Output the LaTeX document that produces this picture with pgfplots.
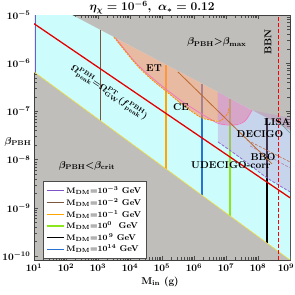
\documentclass[border=0pt]{standalone}
\usepackage{pgfplots}
\pgfplotsset{compat=1.18}
\usepackage{bm}
\usetikzlibrary{calc}
\definecolor{graybg}{RGB}{192,190,187}
\definecolor{cyanreg}{RGB}{205,252,252}
\definecolor{salmonC}{RGB}{252,143,103}
\definecolor{decigoD}{RGB}{187,141,207}
\definecolor{pinkP}{RGB}{230,118,165}
\definecolor{ceorange}{RGB}{255,140,0}
\definecolor{pinkline}{RGB}{240,120,190}
\definecolor{purpdash}{RGB}{150,100,210}
\definecolor{brownslope}{RGB}{185,105,45}
\definecolor{dmpurple}{RGB}{125,85,200}
\definecolor{dmbrown}{RGB}{120,85,60}
\definecolor{dmorange}{RGB}{255,165,0}
\definecolor{dmgreen}{RGB}{140,230,30}
\definecolor{dmblue}{RGB}{40,115,210}
\definecolor{crityellow}{RGB}{240,220,60}
\definecolor{bbored}{RGB}{200,110,80}
\definecolor{bbomauve}{RGB}{180,130,175}
\definecolor{lisateal}{RGB}{120,160,160}
\begin{document}
\begin{tikzpicture}
\begin{axis}[name=ax, scale only axis, width=256bp, height=245bp,
  xmode=log, ymode=log, xmin=10, xmax=1e9, ymin=8.3e-11, ymax=1e-5,
  axis background/.style={fill=graybg},
  xtick={1e1,1e2,1e3,1e4,1e5,1e6,1e7,1e8},
  extra x ticks={1e9},
  extra x tick style={tick label style={xshift=-4bp}},
  ytick={1e-10,1e-9,1e-8,1e-7,1e-6,1e-5},
  tick label style={font=\boldmath\bfseries},
  axis line style={black!75}, every tick/.style={black!70},
  legend style={at={(0.035,0.322)}, anchor=north west, draw=black!70, fill=white,
    font=\fontsize{8.5}{9.5}\selectfont\boldmath\bfseries, row sep=-0.6pt,
    inner xsep=3pt, inner ysep=3pt},
  legend cell align=left,
  legend image post style={line width=1.2pt},
]
% allowed region
\addplot[draw=none, fill=cyanreg, forget plot] coordinates {(10,1e-5) (155,1e-5) (1e9,4.07e-8) (1e9,8.3e-11) (10,6.61e-7)} --cycle;
% M_DM vertical lines
\addplot[dmpurple, line width=1.3pt, forget plot] coordinates {(11.2,6.25e-7) (11.2,1e-5)};
\addplot[dmbrown, line width=1.1pt, forget plot] coordinates {(1230,6.32e-8) (1230,4.83e-6)};
\addplot[dmorange, line width=1.1pt, forget plot] coordinates {(1.33e5,6.47e-9) (1.33e5,9.4e-7)};
\addplot[dmblue, line width=1.3pt, forget plot] coordinates {(1.78e6,1.83e-9) (1.78e6,3.72e-7)};
\addplot[dmgreen, line width=1.3pt, forget plot] coordinates {(1.33e7,6.82e-10) (1.33e7,1.85e-7)};
\addplot[black, line width=1.1pt, forget plot] coordinates {(1.905e8,1.87e-10) (1.905e8,7.3e-8)};
% DECIGO / BBO region
\addplot[draw=none, fill=decigoD, fill opacity=0.35, forget plot] coordinates {(5.62e6,2.51e-7) (6.49e7,1.06e-7) (1e9,7.33e-8) (1e9,2.15e-9) (1.905e8,4.19e-9) (5.62e7,7.78e-9) (1.55e7,1.45e-8) (5.62e6,2.33e-8)} --cycle;
% CE/ET region
\addplot[draw=none, fill=salmonC, fill opacity=0.6, forget plot] coordinates {(3162,3.47e-6) (5.62e6,2.51e-7) (5.62e6,6.41e-8) (3.16e6,6.67e-8) (1.54e6,7.69e-8) (4.53e5,1.36e-7) (1.43e5,2.54e-7) (4.22e4,4.94e-7) (1.43e4,1.01e-6)} --cycle;
\addplot[draw=none, fill=pinkP, fill opacity=0.5, forget plot] coordinates {(5.62e6,2.51e-7) (6.49e7,1.06e-7) (3.93e7,6.35e-8) (1.91e7,5.25e-8) (6.49e6,5.51e-8) (5.62e6,5.6e-8)} --cycle;
% curves
\addplot[pinkline, line width=0.8pt, smooth, forget plot] coordinates {(3548,3.33e-6) (1.43e4,1.06e-6) (4.22e4,5.44e-7) (1.43e5,2.79e-7) (4.53e5,1.57e-7) (1.54e6,9.31e-8) (3.16e6,7.0e-8) (6.49e6,5.51e-8) (1.91e7,5.25e-8) (3.93e7,6.35e-8) (6.49e7,1.06e-7)};
\addplot[ceorange, line width=0.9pt, dash pattern=on 2pt off 1pt, smooth, forget plot] coordinates {(3162,3.47e-6) (1.43e4,1.01e-6) (4.22e4,4.94e-7) (1.43e5,2.54e-7) (4.53e5,1.36e-7) (1.54e6,7.69e-8) (3.16e6,6.67e-8) (6.49e6,6.35e-8) (1.155e7,9.31e-8) (1.2e7,1.17e-7)};
\addplot[purpdash, line width=0.8pt, dash pattern=on 3pt off 1.5pt, smooth, forget plot] coordinates {(5.62e6,2.33e-8) (1.55e7,1.45e-8) (5.62e7,7.78e-9) (1.905e8,4.19e-9) (1e9,2.15e-9)};
\addplot[bbored, line width=0.6pt, dash pattern=on 3pt off 1.5pt, forget plot] coordinates {(4.53e7,2.56e-8) (1e9,8.97e-9)};
\addplot[bbomauve, line width=0.6pt, dash pattern=on 3pt off 1.5pt, forget plot] coordinates {(5.62e7,1.93e-8) (1e9,6.75e-9)};
\addplot[lisateal, line width=0.7pt, forget plot] coordinates {(4.87e8,5.78e-8) (1e9,3.58e-8)};
\addplot[brownslope, line width=0.8pt, forget plot] coordinates {(3.16e5,6.59e-7) (2.75e8,8.17e-9)};
% boundaries
\addplot[crityellow, line width=0.6pt, forget plot] coordinates {(10,6.61e-7) (1e9,8.32e-11)};
\addplot[red!90!black, line width=1.3pt, forget plot] coordinates {(10,6.61e-6) (1e9,1.62e-9)};
\addplot[red, line width=0.8pt, dash pattern=on 4pt off 2pt, forget plot] coordinates {(4.22e8,8.3e-11) (4.22e8,1e-5)};
% legend
\addlegendimage{dmpurple}\addlegendentry{$\mathrm{M}_{\rm DM}{=}10^{-3}$ GeV}
\addlegendimage{dmbrown}\addlegendentry{$\mathrm{M}_{\rm DM}{=}10^{-2}$ GeV}
\addlegendimage{dmorange}\addlegendentry{$\mathrm{M}_{\rm DM}{=}10^{-1}$ GeV}
\addlegendimage{dmgreen}\addlegendentry{$\mathrm{M}_{\rm DM}{=}10^{0}$\ \ GeV}
\addlegendimage{black}\addlegendentry{$\mathrm{M}_{\rm DM}{=}10^{\,9}$ GeV}
\addlegendimage{dmblue}\addlegendentry{$\mathrm{M}_{\rm DM}{=}10^{14}$ GeV}
% labels
\node[font=\boldmath\bfseries] at (axis cs:5.2e6,2.75e-6) {$\beta_{\rm PBH}{>}\beta_{\max}$};
\node[font=\boldmath\bfseries] at (axis cs:453,7.4e-9) {$\beta_{\rm PBH}{<}\beta_{\rm crit}$};
\node[font=\boldmath\bfseries] at (axis cs:5.62e4,7.94e-7) {ET};
\node[font=\boldmath\bfseries] at (axis cs:3.93e5,1.24e-7) {CE};
\node[font=\boldmath\bfseries] at (axis cs:4.0e8,6.05e-8) {LISA};
\node[font=\boldmath\bfseries] at (axis cs:1.155e8,3.42e-8) {DECIGO};
\node[font=\boldmath\bfseries] at (axis cs:1.43e8,1.14e-8) {BBO};
\node[font=\boldmath\bfseries] at (axis cs:1.43e7,7.78e-9) {UDECIGO-corr};
\node[font=\boldmath\bfseries, rotate=90] at (axis cs:2.04e8,2.75e-6) {BBN};
\node[font=\fontsize{9}{10}\selectfont\boldmath\bfseries, rotate=-34, inner sep=0pt] at (axis cs:2200,2.45e-7) {$\Omega^{\rm PBH}_{\rm peak}{=}\Omega^{\rm PT}_{\rm GW}(f^{\rm PBH}_{\rm peak})$};
\end{axis}
\node[font=\fontsize{11.5}{13}\selectfont\boldmath\bfseries, anchor=base] at ($(ax.north west)+(118bp,4bp)$) {$\eta_\chi = 10^{-6},\ \alpha_* = 0.12$};
\node[font=\boldmath\bfseries] at ($(ax.south west)+(-16bp,118bp)$) {$\beta_{\rm PBH}$};
\node[font=\boldmath\bfseries] at ($(ax.south west)+(126bp,-22bp)$) {$\mathrm{M}_{\rm in}$ (g)};
\pgfresetboundingbox
\path ($(ax.south west)+(-34bp,-35bp)$) rectangle ($(ax.north east)+(5bp,15bp)$);
\end{tikzpicture}
\end{document}
